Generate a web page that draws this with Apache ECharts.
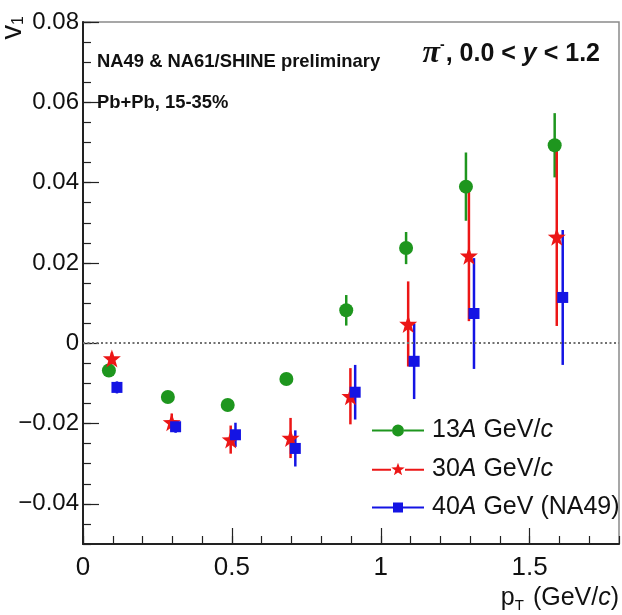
<!DOCTYPE html>
<html>
<head>
<meta charset="utf-8">
<script src="https://cdn.jsdelivr.net/npm/echarts@6/dist/echarts.min.js"></script>
<style>
  html, body { margin: 0; padding: 0; background: #fff; }
  #main { width: 622px; height: 615px; }
</style>
</head>
<body>
<div id="main"></div>
<script>
// v1 vs pT, pi-, Pb+Pb 15-35%
const names = ['13A GeV/c', '30A GeV/c', '40A GeV (NA49)']
const colors = ['#1e961e', '#ec1616', '#1414e4']

const pt13 = [0.087, 0.285, 0.486, 0.683, 0.884, 1.085, 1.286, 1.584]
const v13 = [-0.0068, -0.0134, -0.0154, -0.0089, 0.0082, 0.0237, 0.0390, 0.0493]
const e13 = [0.0012, 0.0012, 0.0012, 0.0012, 0.0038, 0.0040, 0.0085, 0.0080]

const pt30 = [0.097, 0.298, 0.496, 0.697, 0.898, 1.092, 1.296, 1.591]
const v30 = [-0.0038, -0.0197, -0.0240, -0.0236, -0.0132, 0.0048, 0.0218, 0.0265]
const e30 = [0.0015, 0.0022, 0.0035, 0.0050, 0.0070, 0.0106, 0.0163, 0.0222]

const pt40 = [0.114, 0.311, 0.512, 0.713, 0.914, 1.112, 1.313, 1.611]
const v40 = [-0.0110, -0.0208, -0.0228, -0.0262, -0.0122, -0.0045, 0.0074, 0.0114]
const e40 = [0.0015, 0.0015, 0.0030, 0.0045, 0.0068, 0.0094, 0.0138, 0.0168]

const xTicks = [0, 0.5, 1, 1.5]
const yTicks = [-0.04, -0.02, 0, 0.02, 0.04, 0.06, 0.08]

const starPath = 'path://M10,0 L12.35,6.76 L19.51,6.91 L13.8,11.24 L15.88,18.09 L10,14 L4.12,18.09 L6.2,11.24 L0.49,6.91 L7.65,6.76 Z'
const legendIcons = [
  'path://M0,6 L20,6 L20,8 L0,8 Z M32,6 L52,6 L52,8 L32,8 Z M32,7 A6,6 0 1 1 20,7 A6,6 0 1 1 32,7 Z',
  'path://M0,6 L19,6 L19,8 L0,8 Z M33,6 L52,6 L52,8 L33,8 Z M26,0 L27.6,4.7 L32.7,4.8 L28.7,7.9 L30.1,12.7 L26,9.8 L21.9,12.7 L23.3,7.9 L19.3,4.8 L24.4,4.7 Z',
  'path://M0,6 L21,6 L21,8 L0,8 Z M31,6 L52,6 L52,8 L31,8 Z M21,2 L31,2 L31,12 L21,12 Z'
]

const font = 'Liberation Sans, Arial, sans-serif'

function pts(xs, ys) {
  return xs.map((x, i) => [x, ys[i]])
}
function errs(xs, ys, es) {
  return xs.map((x, i) => [x, ys[i] - es[i], ys[i] + es[i]])
}
function errSeries(xs, ys, es, color) {
  return {
    type: 'custom',
    xAxisIndex: 0,
    yAxisIndex: 0,
    silent: true,
    z: 3,
    data: errs(xs, ys, es),
    renderItem: function(params, api) {
      const lo = api.coord([api.value(0), api.value(1)])
      const hi = api.coord([api.value(0), api.value(2)])
      return {
        type: 'line',
        shape: { x1: lo[0], y1: lo[1], x2: hi[0], y2: hi[1] },
        style: { stroke: color, lineWidth: 2.5 }
      }
    }
  }
}
function fmtY(v) {
  if (Math.abs(v) < 1e-9) return '0'
  return (v < 0 ? '\u2212' : '') + Math.abs(v).toFixed(2)
}

const chart = echarts.init(document.getElementById('main'), null, { renderer: 'canvas' })

const option = {
  animation: false,
  backgroundColor: '#fff',
  grid: {
    left: 83, right: 3, top: 22, bottom: 71,
    show: true, borderColor: '#8a8a8a', borderWidth: 1.5
  },
  title: [
    {
      text: 'NA49 & NA61/SHINE preliminary',
      left: 97, top: 53, padding: 0,
      textStyle: { fontFamily: font, fontWeight: 'bold', fontSize: 18.4, color: '#111' }
    },
    {
      text: 'Pb+Pb, 15-35%',
      left: 97, top: 94, padding: 0,
      textStyle: { fontFamily: font, fontWeight: 'bold', fontSize: 18.4, color: '#111' }
    },
    {
      text: '{pi|\u03c0}{sup|-}, 0.0 < {i|y} < 1.2',
      right: 22, top: 38, padding: 0,
      textStyle: {
        fontFamily: font, fontWeight: 'bold', fontSize: 25, color: '#111',
        rich: {
          pi: { fontFamily: 'Liberation Serif, serif', fontStyle: 'italic', fontWeight: 'bold', fontSize: 32, color: '#111' },
          sup: { fontSize: 14, fontWeight: 'bold', verticalAlign: 'top', padding: [0, 1, 14, 0], color: '#111' },
          i: { fontFamily: font, fontStyle: 'italic', fontWeight: 'bold', fontSize: 25, color: '#111' }
        }
      }
    }
  ],
  legend: {
    orient: 'vertical',
    left: 367, top: 413,
    itemWidth: 52, itemHeight: 14,
    itemGap: 13.5,
    data: names.map((n, i) => ({ name: n, icon: legendIcons[i] })),
    formatter: function(name) {
      if (name === names[0]) return '13{i|A} GeV/{i|c}'
      if (name === names[1]) return '30{i|A} GeV/{i|c}'
      return '40{i|A} GeV (NA49)'
    },
    textStyle: {
      fontFamily: font, fontSize: 25, color: '#111', padding: [0, 0, 0, 3],
      rich: { i: { fontFamily: font, fontStyle: 'italic', fontSize: 25, color: '#111' } }
    }
  },
  xAxis: [
    {
      type: 'value', min: 0, max: 1.8, interval: 0.1,
      position: 'bottom',
      axisLine: { show: true, onZero: false, lineStyle: { color: '#222', width: 2 } },
      axisTick: { show: true, inside: true, length: 8, lineStyle: { color: '#222', width: 1.2 } },
      axisLabel: { show: false },
      splitLine: { show: false }
    },
    {
      type: 'value', min: 0, max: 1.8, interval: 0.5,
      position: 'bottom',
      axisLine: { show: false, onZero: false },
      axisTick: { show: true, inside: true, length: 16, lineStyle: { color: '#222', width: 1.2 } },
      axisLabel: {
        show: true, margin: 11, fontFamily: font, fontSize: 26, color: '#111',
        showMaxLabel: false,
        formatter: v => xTicks.some(t => Math.abs(t - v) < 1e-9) ? String(v) : ''
      },
      splitLine: { show: false },
      name: 'p{sub|T} (GeV/{i|c})',
      nameLocation: 'end',
      nameGap: 0,
      nameTextStyle: {
        fontFamily: font, fontSize: 25, color: '#111',
        align: 'right', verticalAlign: 'top', padding: [40, 0, 0, 0],
        rich: {
          sub: { fontFamily: font, fontSize: 15, color: '#111', verticalAlign: 'bottom', padding: [14, 2, 0, 0] },
          i: { fontFamily: font, fontStyle: 'italic', fontSize: 25, color: '#111' }
        }
      }
    }
  ],
  yAxis: [
    {
      type: 'value', min: -0.05, max: 0.08, interval: 0.005,
      axisLine: { show: true, onZero: false, lineStyle: { color: '#222', width: 2 } },
      axisTick: { show: true, inside: true, length: 8, lineStyle: { color: '#222', width: 1.2 } },
      axisLabel: { show: false },
      splitLine: { show: false }
    },
    {
      type: 'value', min: -0.05, max: 0.08, splitNumber: 6,
      position: 'left',
      axisLine: { show: false, onZero: false },
      axisTick: { show: true, inside: true, length: 16, lineStyle: { color: '#222', width: 1.2 } },
      axisLabel: {
        show: true, margin: 4, fontFamily: font, fontSize: 24, color: '#111',
        showMinLabel: false,
        formatter: v => yTicks.some(t => Math.abs(t - v) < 1e-9) ? fmtY(v) : ''
      },
      splitLine: { show: false }
    }
  ],
  graphic: [
    {
      type: 'text',
      x: 13, y: 16,
      rotation: Math.PI / 2,
      style: {
        text: 'v{sub|1}',
        align: 'right', verticalAlign: 'middle',
        fontFamily: font, fontSize: 29, fill: '#111',
        rich: { sub: { fontFamily: font, fontSize: 16, fill: '#111', padding: [12, 0, 0, 0] } }
      }
    }
  ],
  series: [
    errSeries(pt13, v13, e13, colors[0]),
    errSeries(pt30, v30, e30, colors[1]),
    errSeries(pt40, v40, e40, colors[2]),
    {
      name: names[0], type: 'scatter', xAxisIndex: 0, yAxisIndex: 0, z: 5,
      symbol: 'circle', symbolSize: 14,
      itemStyle: { color: colors[0], opacity: 1 },
      data: pts(pt13, v13),
      markLine: {
        silent: true, symbol: 'none',
        label: { show: false },
        lineStyle: { type: [2, 2.5], color: '#707070', width: 2 },
        data: [{ yAxis: 0 }]
      }
    },
    {
      name: names[1], type: 'scatter', xAxisIndex: 0, yAxisIndex: 0, z: 5,
      symbol: starPath, symbolSize: 18,
      itemStyle: { color: colors[1], opacity: 1 },
      data: pts(pt30, v30)
    },
    {
      name: names[2], type: 'scatter', xAxisIndex: 0, yAxisIndex: 0, z: 5,
      symbol: 'rect', symbolSize: 11,
      itemStyle: { color: colors[2], opacity: 1 },
      data: pts(pt40, v40)
    }
  ]
}

chart.setOption(option)
</script>
</body>
</html>
